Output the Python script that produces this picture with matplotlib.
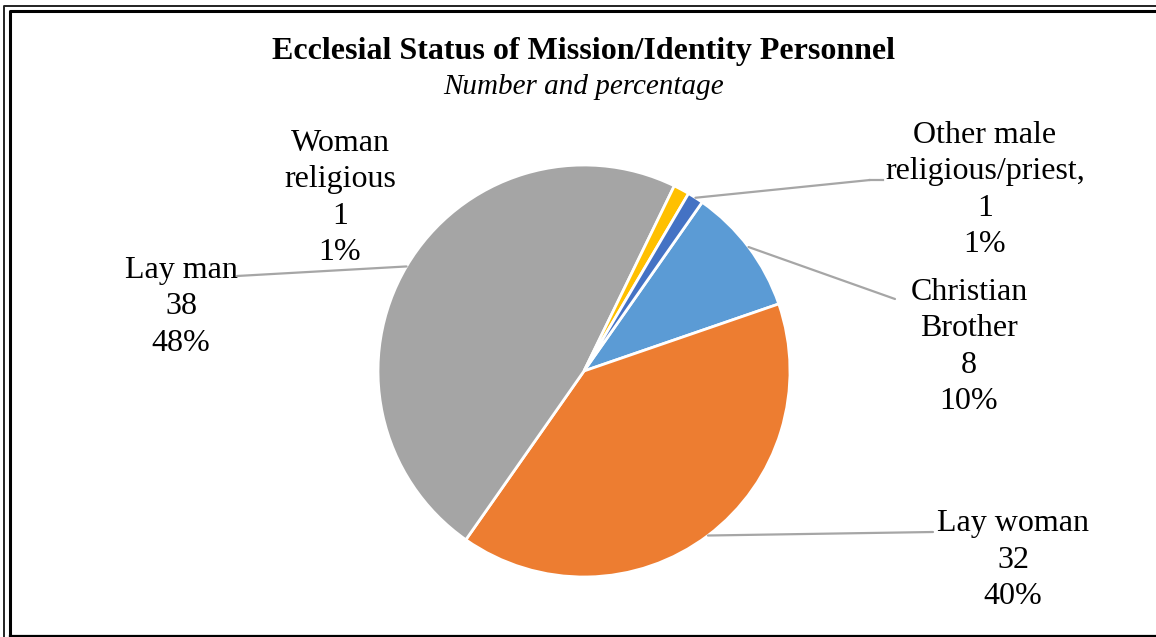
import numpy as np
import matplotlib
matplotlib.use("Agg")
import matplotlib.pyplot as plt
from matplotlib.lines import Line2D

# DATOS
categorias = ["Christian\nBrother", "Lay woman", "Lay man", "Woman\nreligious", "Other male\nreligious/priest,"]
valores = [8, 32, 38, 1, 1]
porcentajes = ["10%", "40%", "48%", "1%", "1%"]
colores = ["#5B9BD5", "#ED7D31", "#A5A5A5", "#FFC000", "#4472C4"]

titulo = "Ecclesial Status of Mission/Identity Personnel"
subtitulo = "Number and percentage"

W, H = 1156, 637
plt.rcParams['font.family'] = ['Liberation Serif', 'DejaVu Serif']

fig = plt.figure(figsize=(W / 100, H / 100), dpi=100)

# centro y radio del pastel en pixeles
cx, cy, r = 584, 371, 206
ax = fig.add_axes([(cx - r) / W, (H - cy - r) / H, 2 * r / W, 2 * r / H])

wedges, _ = ax.pie(valores, colors=colores, startangle=55, counterclock=False,
                   radius=1.0, wedgeprops=dict(edgecolor='white', linewidth=2.0))
ax.set_xlim(-1, 1)
ax.set_ylim(-1, 1)
ax.axis('off')


def fig_frac(px, py):
    return px / W, 1 - py / H


# etiquetas: posicion del texto (pixeles) y punto final de la linea guia
etiquetas = [
    ((969, 347), (895, 299)),
    ((1013, 560), (933, 532)),
    ((181, 307), (237, 276)),
    ((340, 198), None),
    ((985, 190), (870, 180)),
]

for w, cat, v, p, (pos, fin) in zip(wedges, categorias, valores, porcentajes, etiquetas):
    fig.text(*fig_frac(*pos), f"{cat}\n{v}\n{p}", ha='center', va='center',
             fontsize=23, linespacing=1.33, color='black')
    if fin is None:
        continue
    ang = np.deg2rad((w.theta1 + w.theta2) / 2)
    ax.annotate("", xy=(np.cos(ang), np.sin(ang)), xycoords='data',
                xytext=(fin[0], H - fin[1]), textcoords='figure pixels',
                arrowprops=dict(arrowstyle='-', color='#A6A6A6', lw=1.6,
                                shrinkA=0, shrinkB=0))

# tramo horizontal de la guia de "Other male"
fig.add_artist(Line2D([870 / W, 883 / W], [1 - 180 / H, 1 - 180 / H],
                      transform=fig.transFigure, color='#A6A6A6', lw=1.6))

fig.text(*fig_frac(584, 51), titulo, ha='center', va='center',
         fontsize=23, fontweight='bold')
fig.text(*fig_frac(584, 87), subtitulo, ha='center', va='center',
         fontsize=21, style='italic')

# marco doble
def marco(x0, y0, lw, color):
    fig.add_artist(Line2D([x0 / W, x0 / W, 1.02], [-0.02, 1 - y0 / H, 1 - y0 / H],
                          transform=fig.transFigure, color=color, lw=lw))

marco(4.2, 5.5, 1.4, '#222222')
marco(9.5, 10.5, 2.2, 'black')
fig.add_artist(Line2D([9.5 / W, 1.02], [1 - 635.8 / H, 1 - 635.8 / H],
                      transform=fig.transFigure, color='black', lw=1.6))

fig.savefig("out.png", dpi=100)
